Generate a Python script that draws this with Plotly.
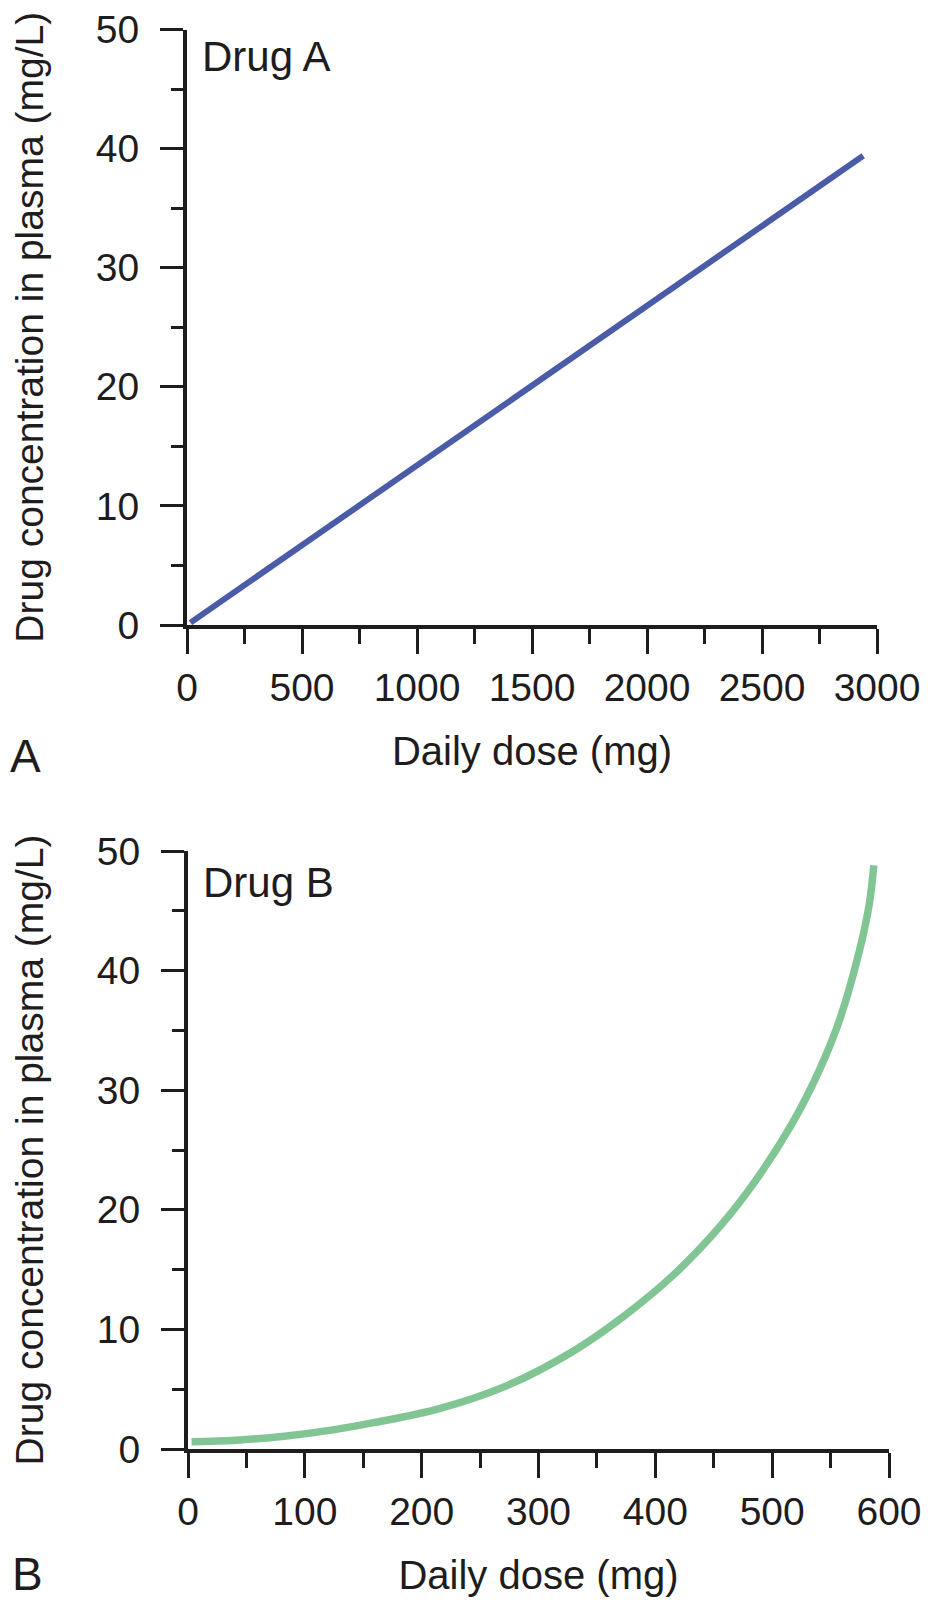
import plotly.graph_objects as go

# values
dose_a = [15, 2940]                 # mg/day
conc_a = [0.2, 39.4]                # mg/L

dose_b = [3, 41, 84, 124, 159, 216, 273, 330, 373, 416, 457, 487, 517, 540, 556, 573, 583, 587]
conc_b = [0.6, 0.73, 1.09, 1.6, 2.2, 3.4, 5.3, 8.2, 11.1, 14.6, 18.8, 22.6, 27.2, 31.6, 35.4, 41.0, 45.5, 48.8]

x_ticks_a = [0, 500, 1000, 1500, 2000, 2500, 3000]
x_ticks_b = [0, 100, 200, 300, 400, 500, 600]
y_ticks = [0, 10, 20, 30, 40, 50]

W, H = 930, 1608
INK = "#1e1c1d"
FONT = "Liberation Sans, Arial, Helvetica, sans-serif"
BLUE = "#4a5ba7"
GREEN = "#82c594"

fig = go.Figure()
fig.add_trace(go.Scatter(x=dose_a, y=conc_a, mode="lines", line=dict(color=BLUE, width=6),
                         xaxis="x", yaxis="y", showlegend=False, hoverinfo="x+y"))
fig.add_trace(go.Scatter(x=dose_b, y=conc_b, mode="lines", line=dict(color=GREEN, width=7.5, shape="spline", smoothing=1.0),
                         xaxis="x2", yaxis="y2", showlegend=False, hoverinfo="x+y"))


def xax(dom, rng, ticks, minor, anchor):
    return dict(domain=dom, range=rng, anchor=anchor, tickvals=ticks, showgrid=False, zeroline=False,
                showline=True, linecolor=INK, linewidth=4, ticks="outside", ticklen=25, tickwidth=3,
                tickcolor=INK, ticklabelstandoff=0, tickfont=dict(size=39, color=INK, family=FONT),
                minor=dict(dtick=minor, ticks="outside", ticklen=15, tickwidth=3, tickcolor=INK, showgrid=False),
                title=dict(text="Daily dose (mg)", font=dict(size=40, color=INK, family=FONT), standoff=30),
                automargin=False, fixedrange=True)


def yax(dom, anchor):
    return dict(domain=dom, range=[0, 50], anchor=anchor, tickvals=y_ticks, showgrid=False, zeroline=False,
                showline=True, linecolor=INK, linewidth=4, ticks="outside", ticklen=23, tickwidth=3,
                tickcolor=INK, ticklabelstandoff=13, tickfont=dict(size=39, color=INK, family=FONT),
                minor=dict(dtick=5, ticks="outside", ticklen=12, tickwidth=3, tickcolor=INK, showgrid=False),
                title=dict(text="Drug concentration in plasma (mg/L)", font=dict(size=39, color=INK, family=FONT),
                           standoff=44),
                automargin=False, fixedrange=True)


fig.update_layout(
    width=W, height=H, margin=dict(l=0, r=0, t=0, b=0),
    paper_bgcolor="white", plot_bgcolor="white",
    xaxis=xax([179 / W, 869 / W], [0, 3000], x_ticks_a, 250, "y"),
    yaxis=yax([1 - 617 / H, 1 - 21.5 / H], "x"),
    xaxis2=xax([180 / W, 881 / W], [0, 600], x_ticks_b, 50, "y2"),
    yaxis2=yax([1 - 1441 / H, 1 - 843 / H], "x2"),
    annotations=[
        dict(text="Drug A", x=192 / W, y=1 - 49 / H, xref="paper", yref="paper", xanchor="left", yanchor="middle",
             showarrow=False, font=dict(size=42, color=INK, family=FONT)),
        dict(text="Drug B", x=193 / W, y=1 - 874 / H, xref="paper", yref="paper", xanchor="left", yanchor="middle",
             showarrow=False, font=dict(size=42, color=INK, family=FONT)),
        dict(text="A", x=0, y=1 - 748 / H, xref="paper", yref="paper", xanchor="left", yanchor="middle",
             showarrow=False, font=dict(size=46, color=INK, family=FONT)),
        dict(text="B", x=2 / W, y=1 - 1566 / H, xref="paper", yref="paper", xanchor="left", yanchor="middle",
             showarrow=False, font=dict(size=46, color=INK, family=FONT)),
    ],
)

fig.write_html("out.html")
